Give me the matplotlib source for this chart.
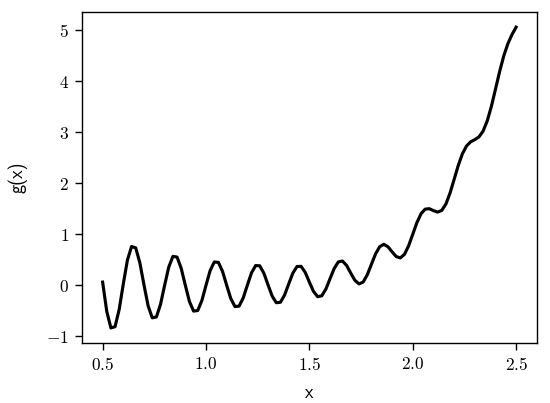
import matplotlib
matplotlib.use("Agg")
import matplotlib.pyplot as plt

x = [0.50, 0.52, 0.54, 0.56, 0.58, 0.60, 0.62, 0.64, 0.66, 0.68,
     0.70, 0.72, 0.74, 0.76, 0.78, 0.80, 0.82, 0.84, 0.86, 0.88,
     0.90, 0.92, 0.94, 0.96, 0.98, 1.00, 1.02, 1.04, 1.06, 1.08,
     1.10, 1.12, 1.14, 1.16, 1.18, 1.20, 1.22, 1.24, 1.26, 1.28,
     1.30, 1.32, 1.34, 1.36, 1.38, 1.40, 1.42, 1.44, 1.46, 1.48,
     1.50, 1.52, 1.54, 1.56, 1.58, 1.60, 1.62, 1.64, 1.66, 1.68,
     1.70, 1.72, 1.74, 1.76, 1.78, 1.80, 1.82, 1.84, 1.86, 1.88,
     1.90, 1.92, 1.94, 1.96, 1.98, 2.00, 2.02, 2.04, 2.06, 2.08,
     2.10, 2.12, 2.14, 2.16, 2.18, 2.20, 2.22, 2.24, 2.26, 2.28,
     2.30, 2.32, 2.34, 2.36, 2.38, 2.40, 2.42, 2.44, 2.46, 2.48,
     2.50]
g = [0.062, -0.512, -0.836, -0.812, -0.476, 0.026, 0.495, 0.760, 0.734, 0.443,
     0.008, -0.402, -0.638, -0.622, -0.374, 0.002, 0.359, 0.567, 0.553, 0.334,
     0.000, -0.319, -0.506, -0.495, -0.300, 0.000, 0.288, 0.457, 0.449, 0.272,
     0.000, -0.262, -0.417, -0.409, -0.248, 0.002, 0.243, 0.387, 0.382, 0.236,
     0.008, -0.212, -0.342, -0.333, -0.192, 0.026, 0.238, 0.368, 0.371, 0.252,
     0.062, -0.120, -0.224, -0.206, -0.073, 0.130, 0.329, 0.458, 0.476, 0.389,
     0.240, 0.098, 0.027, 0.063, 0.205, 0.410, 0.614, 0.756, 0.803, 0.756,
     0.656, 0.563, 0.536, 0.607, 0.774, 1.000, 1.228, 1.403, 1.493, 1.502,
     1.464, 1.435, 1.467, 1.590, 1.804, 2.074, 2.348, 2.577, 2.731, 2.813,
     2.856, 2.909, 3.021, 3.220, 3.503, 3.842, 4.187, 4.495, 4.737, 4.916,
     5.062]

# LaTeX-like look
plt.rcParams['font.family'] = 'serif'
plt.rcParams['font.serif'] = ['cmr10']
plt.rcParams['mathtext.fontset'] = 'cm'
plt.rcParams['axes.formatter.use_mathtext'] = True
plt.rcParams['axes.unicode_minus'] = True

fig, ax = plt.subplots(figsize=(4.4, 3.224), dpi=125)
fig.subplots_adjust(left=0.149, right=0.976, bottom=0.149, top=0.970)

ax.plot(x, g, color='black', linewidth=1.8)

ax.set_xlabel('x', family='cmss10', fontsize=10.5, labelpad=6.5)
ax.set_ylabel('g(x)', family='cmss10', fontsize=10.5, labelpad=11)
ax.set_xticks([0.5, 1.0, 1.5, 2.0, 2.5])
ax.set_yticks([-1, 0, 1, 2, 3, 4, 5])
ax.tick_params(length=4)

fig.savefig('out.png', dpi=125)
